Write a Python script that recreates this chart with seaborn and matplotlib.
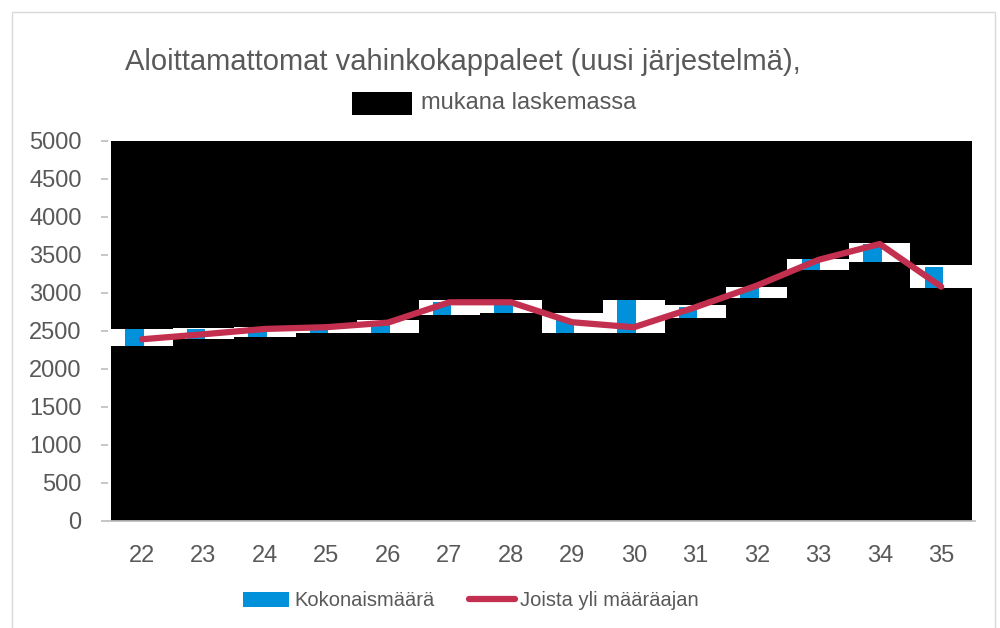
import matplotlib
matplotlib.use("Agg")
import matplotlib.pyplot as plt
from matplotlib.patches import Rectangle
from matplotlib.lines import Line2D
import numpy as np
import pandas as pd
import seaborn as sns

# viikot ja arvot (luettu kuvasta)
viikot = ["22", "23", "24", "25", "26", "27", "28", "29", "30", "31", "32", "33", "34", "35"]
kokonaismaara = [2527, 2527, 2553, 2544, 2636, 2886, 2890, 2645, 2908, 2820, 3066, 3448, 3645, 3343]
yli_maaraajan = [2391, 2457, 2527, 2550, 2610, 2878, 2878, 2615, 2549, 2812, 3097, 3435, 3645, 3083]

# peitetyt (mustat) alueet: alaosan yläraja ja yläosan alaraja
peitto_ala = [2303, 2395, 2421, 2474, 2474, 2711, 2737, 2474, 2474, 2671, 2935, 3300, 3408, 3066]
peitto_yla = [2527, 2540, 2553, 2553, 2645, 2908, 2908, 2737, 2908, 2843, 3080, 3448, 3658, 3369]

sininen = "#0091DA"
punainen = "#C3304F"
harmaa = "#595959"

sns.set_theme(style="white")
plt.rcParams['font.family'] = ['Liberation Sans', 'DejaVu Sans']

df = pd.DataFrame({"viikko": viikot, "Kokonaismäärä": kokonaismaara,
                   "Joista yli määräajan": yli_maaraajan})

fig = plt.figure(figsize=(10, 6.28), dpi=100)
ax = fig.add_axes([0.108, 0.1704, 0.867, 0.6051])

sns.barplot(data=df, x="viikko", y="Kokonaismäärä", color=sininen, width=0.3,
            saturation=1, linewidth=0, ax=ax, zorder=1)
for p in ax.patches:
    p.set_x(p.get_x() - 0.12)

x = np.arange(len(viikot))
ax.bar(x, peitto_ala, width=1.0, color="black", linewidth=0, zorder=2)
ax.bar(x, 5000 - np.array(peitto_yla), bottom=peitto_yla, width=1.0, color="black",
       linewidth=0, zorder=2)

sns.lineplot(x=x, y=yli_maaraajan, color=punainen, lw=4.5, ax=ax, zorder=3,
             solid_capstyle="round", solid_joinstyle="round")

ax.set_xlim(-0.553, 13.55)
ax.set_ylim(0, 5000)
ax.set_yticks(range(0, 5001, 500))
ax.set_xticks(x)
ax.set_xticklabels(viikot)
ax.set_xlabel("")
ax.set_ylabel("")
for s in ["left", "top", "right"]:
    ax.spines[s].set_visible(False)
ax.spines["bottom"].set_color("#BFBFBF")
ax.tick_params(axis="y", left=True, length=5, color="#BFBFBF", labelsize=17, labelcolor=harmaa, pad=14)
ax.tick_params(axis="x", bottom=False, labelsize=17, labelcolor=harmaa, pad=11)

fig.text(0.463, 0.901, "Aloittamattomat vahinkokappaleet (uusi järjestelmä),",
         ha="center", va="center", fontsize=21, color=harmaa)
fig.patches.append(Rectangle((0.352, 1 - 115 / 628), 0.06, 23 / 628, transform=fig.transFigure,
                             facecolor="black", edgecolor="none"))
fig.text(0.421, 0.836, "mukana laskemassa", ha="left", va="center", fontsize=17, color=harmaa)

kahvat = [Rectangle((0, 0), 1, 1, facecolor=sininen, edgecolor="none"),
          Line2D([0], [0], color=punainen, lw=4.5, solid_capstyle="round")]
fig.legend(kahvat, ["Kokonaismäärä", "Joista yli määräajan"], loc="center",
           bbox_to_anchor=(0.471, 0.043), ncol=2, frameon=False, fontsize=14.5,
           handlelength=2.3, handleheight=0.8, columnspacing=1.7, handletextpad=0.25,
           labelcolor=harmaa)

fig.patches.append(Rectangle((0.012, -0.01), 0.983, 1 - 12 / 628 + 0.01, transform=fig.transFigure,
                             facecolor="none", edgecolor="#D9D9D9", lw=1))

fig.savefig("out.png", dpi=100)
